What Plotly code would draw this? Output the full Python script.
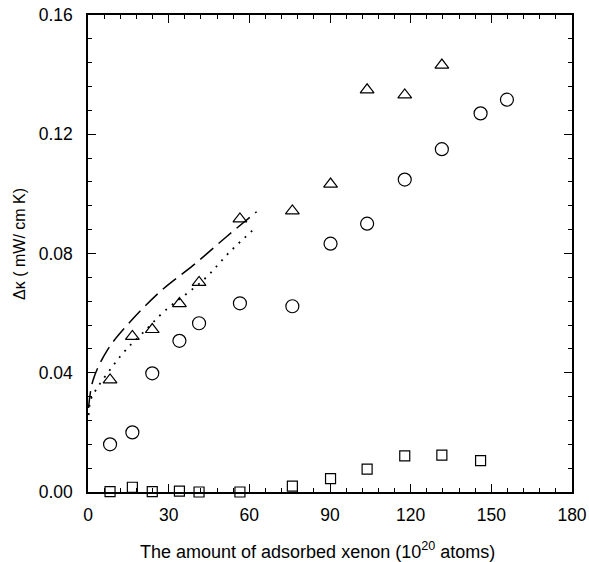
import plotly.graph_objects as go

# Data
x_circ = [8.2, 16.5, 23.9, 34.0, 41.3, 56.5, 76.0, 90.2, 103.8, 117.8, 131.6, 146.0, 155.8]
y_circ = [0.0160, 0.0200, 0.0398, 0.0507, 0.0566, 0.0633, 0.0623, 0.0833, 0.0900, 0.1048, 0.1150, 0.1270, 0.1316]

x_tri = [8.2, 16.5, 23.9, 34.0, 41.3, 56.5, 76.0, 90.2, 103.8, 117.8, 131.6]
y_tri = [0.0376, 0.0522, 0.0545, 0.0632, 0.0703, 0.0916, 0.0943, 0.1033, 0.1349, 0.1332, 0.1432]

x_sq = [8.2, 16.5, 23.9, 34.0, 41.3, 56.5, 76.0, 90.2, 103.8, 117.8, 131.6, 146.0]
y_sq = [0.0001, 0.0016, 0.0001, 0.0003, 0.0000, 0.0000, 0.0020, 0.0045, 0.0077, 0.0121, 0.0124, 0.0105]

x_dash = [0.2, 1.9, 7.2, 14.6, 26.8, 39.2, 51.6, 62.7]
y_dash = [0.0282, 0.0376, 0.0476, 0.0560, 0.0672, 0.0761, 0.0857, 0.0940]

x_dot = [0.2, 1.0, 2.9, 9.0, 14.0, 20.2, 28.5, 42.9, 52.8, 62.7]
y_dot = [0.0258, 0.0309, 0.0342, 0.0420, 0.0476, 0.0532, 0.0607, 0.0711, 0.0806, 0.0890]

x_ticks = [0, 30, 60, 90, 120, 150, 180]
y_ticks = [0.00, 0.04, 0.08, 0.12, 0.16]

x_title = "The amount of adsorbed xenon (10<sup>20</sup> atoms)"
y_title = "Δκ ( mW/ cm K)"

FONT = "Liberation Sans, Arial, Helvetica, sans-serif"

fig = go.Figure()

fig.add_trace(go.Scatter(x=x_dash, y=y_dash, mode="lines", line_shape="spline",
                         line=dict(color="black", width=1.5, dash="17px,7px"),
                         showlegend=False, hoverinfo="skip"))
fig.add_trace(go.Scatter(x=x_dot, y=y_dot, mode="lines", line_shape="spline",
                         line=dict(color="black", width=1.8, dash="1.8px,6.5px"),
                         showlegend=False, hoverinfo="skip"))

mk_line = dict(color="black", width=1.2)
fig.add_trace(go.Scatter(x=x_circ, y=y_circ, mode="markers", cliponaxis=False,
                         marker=dict(symbol="circle-open", size=13, color="black", line=mk_line),
                         showlegend=False))
fig.add_trace(go.Scatter(x=x_tri, y=y_tri, mode="markers", cliponaxis=False,
                         marker=dict(symbol="triangle-up-open", size=12, color="black", line=mk_line),
                         showlegend=False))
fig.add_trace(go.Scatter(x=x_sq, y=y_sq, mode="markers", cliponaxis=False,
                         marker=dict(symbol="square-open", size=10, color="black", line=mk_line),
                         showlegend=False))

fig.update_layout(
    width=589, height=562,
    margin=dict(l=88, r=17, t=15, b=70),
    paper_bgcolor="white", plot_bgcolor="white",
    font=dict(family=FONT, color="black", size=17),
    xaxis=dict(range=[0, 180], tickvals=x_ticks, ticktext=[str(v) for v in x_ticks],
               automargin=False, showgrid=False, zeroline=False, ticklabeloverflow="allow",
               showline=True, linecolor="black", linewidth=1.5, mirror="allticks",
               ticks="inside", ticklen=8, tickwidth=1.2, tickcolor="black",
               minor=dict(dtick=6, ticks="inside", ticklen=4, tickwidth=1, tickcolor="black"),
               tickfont=dict(size=17.5), ticklabelstandoff=6),
    yaxis=dict(range=[0, 0.16], tickvals=y_ticks, ticktext=[f"{v:.2f}" for v in y_ticks],
               automargin=False, showgrid=False, zeroline=False, ticklabeloverflow="allow",
               showline=True, linecolor="black", linewidth=1.5, mirror="allticks",
               ticks="inside", ticklen=8, tickwidth=1.2, tickcolor="black",
               minor=dict(dtick=0.008, ticks="inside", ticklen=4, tickwidth=1, tickcolor="black"),
               tickfont=dict(size=17.5), ticklabelstandoff=10),
    annotations=[
        dict(text=x_title, xref="paper", yref="paper", x=0.475, y=-0.1216,
             xanchor="center", yanchor="middle", showarrow=False, font=dict(size=18)),
        dict(text=y_title, xref="paper", yref="paper", x=-0.1405, y=0.52,
             xanchor="center", yanchor="middle", showarrow=False, textangle=-90,
             font=dict(size=16)),
    ],
)

fig.write_html("out.html", config={"displayModeBar": False},
               post_script="document.body.style.margin='0px';document.body.style.overflow='hidden';")
